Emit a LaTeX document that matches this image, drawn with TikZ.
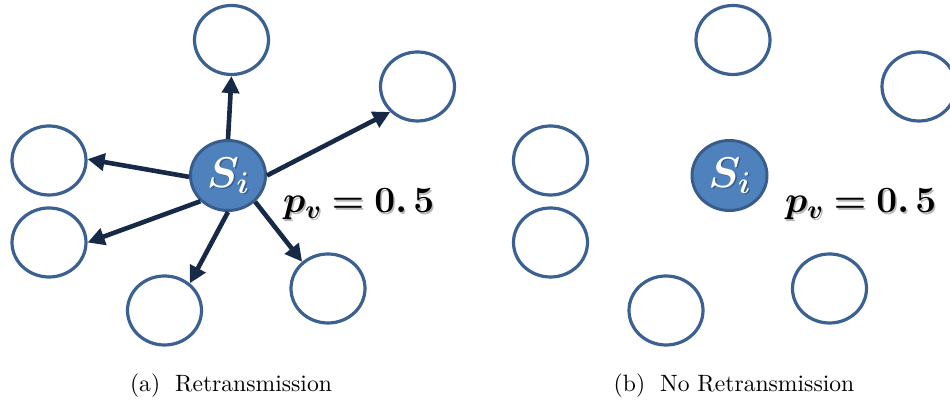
\RequirePackage{fix-cm}
\documentclass[tikz,border=0pt]{standalone}
\usepackage{bm}
\usetikzlibrary{shapes.geometric,arrows.meta}
\definecolor{nodeblue}{RGB}{59,96,146}
\definecolor{srcfill}{RGB}{79,129,189}
\definecolor{srcline}{RGB}{56,93,138}
\definecolor{arrowc}{RGB}{22,41,70}
\definecolor{shadowc}{RGB}{185,185,185}
\tikzset{
  nbrnode/.style={ellipse,draw=nodeblue,line width=3.2pt,minimum width=74pt,minimum height=69pt,inner sep=0pt},
  srcnode/.style={ellipse,draw=srcline,fill=srcfill,line width=3pt,minimum width=75pt,minimum height=70pt,inner sep=0pt},
  arrline/.style={draw=arrowc,line width=4.6pt,-{Triangle[length=17pt,width=17pt]}},
  pvlabel/.style={inner sep=0pt,anchor=base west,font=\fontsize{37}{40}\selectfont},
  silabel/.style={inner sep=0pt,font=\fontsize{43}{46}\selectfont},
  captext/.style={inner sep=0pt,anchor=base,font=\normalsize,scale=2.36},
}
\begin{document}
\begin{tikzpicture}[x=1pt,y=1pt]
\useasboundingbox (0,0) rectangle (950,403);
% ---------- (a) ----------
\node[nbrnode] (t)  at (231.5,363) {};
\node[nbrnode] (tr) at (417.5,316.5) {};
\node[nbrnode] (l1) at (49,242.5) {};
\node[nbrnode] (l2) at (49,160.5) {};
\node[nbrnode] (b)  at (164.5,92.5) {};
\node[nbrnode] (br) at (328,114.5) {};
\node[srcnode] (c)  at (228,227.5) {};
\node[silabel,text=srcline] (cs) at (229.5,226) {\(\bm{S_i}\)};
\node[silabel,text=white] (ct) at (228,227.5) {\(\bm{S_i}\)};
\draw[arrline] (c.90)  -- (t.270);
\draw[arrline] (c.0)   -- (tr.223);
\draw[arrline] (c.182) -- (l1.2);
\draw[arrline] (c.223) -- (l2.0);
\draw[arrline] (c.270) -- (b.47);
\draw[arrline] (c.316) -- (br.134);
\node[pvlabel,text=shadowc] (pas) at (284.5,188.5) {\(\bm{p_v}\bm{=}\bm{0.\,5}\)};
\node[pvlabel] (pa) at (283,190) {\(\bm{p_v}\bm{=}\bm{0.\,5}\)};
\node[captext] (capa) at (231,11) {(a)\hspace{3pt} Retransmission};
% ---------- (b) ----------
\node[nbrnode] (t2)  at (733,363) {};
\node[nbrnode] (tr2) at (919,316.5) {};
\node[nbrnode] (l12) at (550.5,242.5) {};
\node[nbrnode] (l22) at (550.5,160.5) {};
\node[nbrnode] (b2)  at (666,92.5) {};
\node[nbrnode] (br2) at (829.5,114.5) {};
\node[srcnode] (c2)  at (729.5,227.5) {};
\node[silabel,text=srcline] (cs2) at (731,226) {\(\bm{S_i}\)};
\node[silabel,text=white] (ct2) at (729.5,227.5) {\(\bm{S_i}\)};
\node[pvlabel,text=shadowc] (pbs) at (786.5,188.5) {\(\bm{p_v}\bm{=}\bm{0.\,5}\)};
\node[pvlabel] (pb) at (785,190) {\(\bm{p_v}\bm{=}\bm{0.\,5}\)};
\node[captext] (capb) at (734,11) {(b)\hspace{3pt} No Retransmission};
\end{tikzpicture}
\end{document}
